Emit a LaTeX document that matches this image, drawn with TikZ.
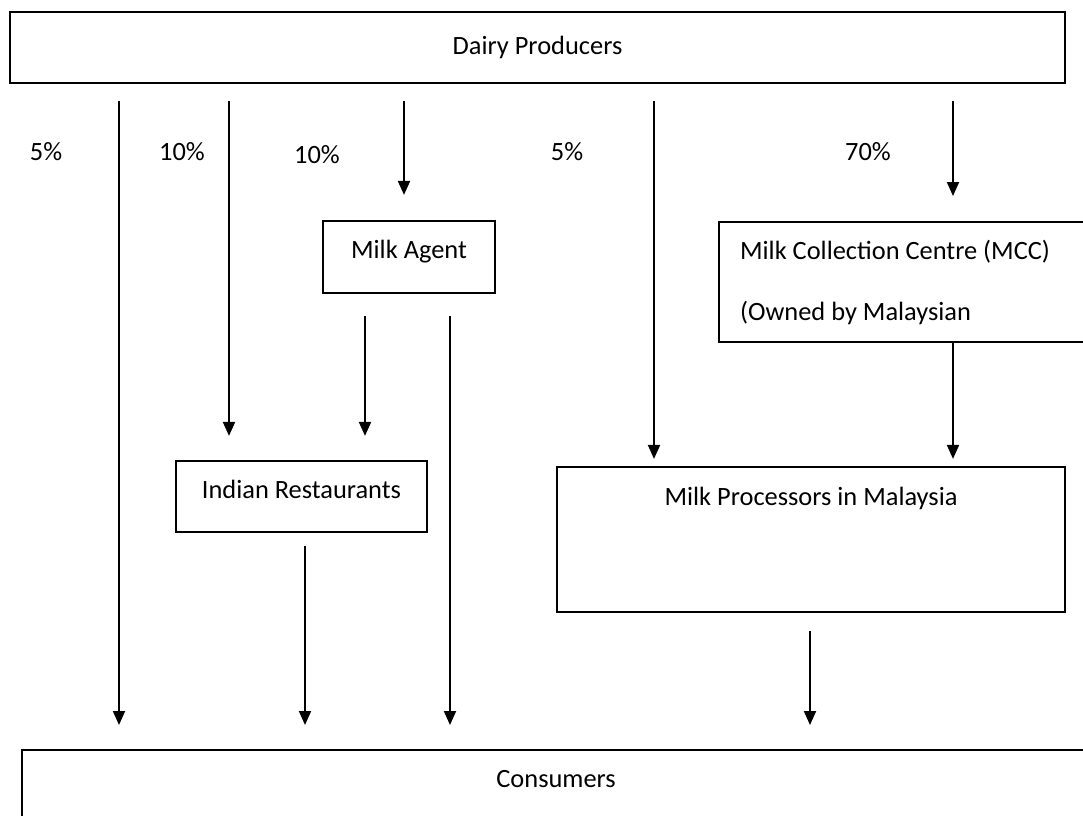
\documentclass[tikz,border=0pt]{standalone}
\usepackage{fontspec}
\setmainfont{Carlito}
\usetikzlibrary{arrows.meta,positioning}

\begin{document}
\begin{tikzpicture}[
  x=0.5pt, y=-0.5pt,
  box/.style={draw, line width=1.1pt, inner sep=0pt, align=center, font=\fontsize{13.2}{16}\selectfont},
  pct/.style={inner sep=0pt, font=\fontsize{13.2}{16}\selectfont},
  arr/.style={-{Triangle[length=7pt,width=6pt]}, line width=1pt},
]
\useasboundingbox (0,0) rectangle (1083,815);
\clip (0,0) rectangle (1083,815);

% boxes
\node[box, minimum width=527.5pt, minimum height=35.5pt] (dp) at (537.5,47.5) {Dairy Producers};
\node[box, minimum width=86pt, minimum height=36pt] (ma) at (409,257) {\raisebox{8pt}{Milk Agent}};
\node[box, anchor=north west, minimum height=60pt, text width=200pt, inner xsep=10.5pt, align=flush left] (mcc) at (718,221)
  {Milk Collection Centre (MCC)\\[14.5pt](Owned by Malaysian};
\node[box, minimum width=125.5pt, minimum height=35.5pt] (ir) at (301.5,496.5) {\raisebox{7.5pt}{Indian Restaurants}};
\node[box, minimum width=254pt, minimum height=72.5pt] (mp) at (811,539.5) {\raisebox{43pt}{Milk Processors in Malaysia}};
\node[box, anchor=north west, minimum width=534pt, minimum height=50pt] (con) at (21,749) {\raisebox{21pt}{Consumers}};

% shares
\node[pct] (p1) at (46,152) {5\%};
\node[pct] (p2) at (182,152) {10\%};
\node[pct] (p3) at (317,155) {10\%};
\node[pct] (p4) at (567,152) {5\%};
\node[pct] (p5) at (868,152) {70\%};

% columns of the arrows
\coordinate (c1) at (119,0);
\coordinate (c2) at (229,0);
\coordinate (c3) at (404,0);
\coordinate (c4) at (654,0);
\coordinate (c5) at (953,0);
\coordinate (c6) at (365,0);
\coordinate (c7) at (450,0);
\coordinate (c8) at (305,0);
\coordinate (c9) at (810,0);

\draw[arr, shorten <=8.5pt, shorten >=12pt] (dp.south -| c1) -- (con.north -| c1);
\draw[arr, shorten <=8.5pt, shorten >=12pt] (dp.south -| c2) -- (ir.north -| c2);
\draw[arr, shorten <=8.5pt, shorten >=12.5pt] (dp.south -| c3) -- (ma.north -| c3);
\draw[arr, shorten <=8.5pt, shorten >=3.5pt] (dp.south -| c4) -- (mp.north -| c4);
\draw[arr, shorten <=8.5pt, shorten >=12.5pt] (dp.south -| c5) -- (mcc.north -| c5);
\draw[arr, shorten <=11pt, shorten >=12pt] (ma.south -| c6) -- (ir.north -| c6);
\draw[arr, shorten <=11pt, shorten >=12pt] (ma.south -| c7) -- (con.north -| c7);
\draw[arr, shorten >=3.5pt] (mcc.south -| c5) -- (mp.north -| c5);
\draw[arr, shorten <=6.5pt, shorten >=12pt] (ir.south -| c8) -- (con.north -| c8);
\draw[arr, shorten <=9pt, shorten >=12pt] (mp.south -| c9) -- (con.north -| c9);

\end{tikzpicture}
\end{document}
